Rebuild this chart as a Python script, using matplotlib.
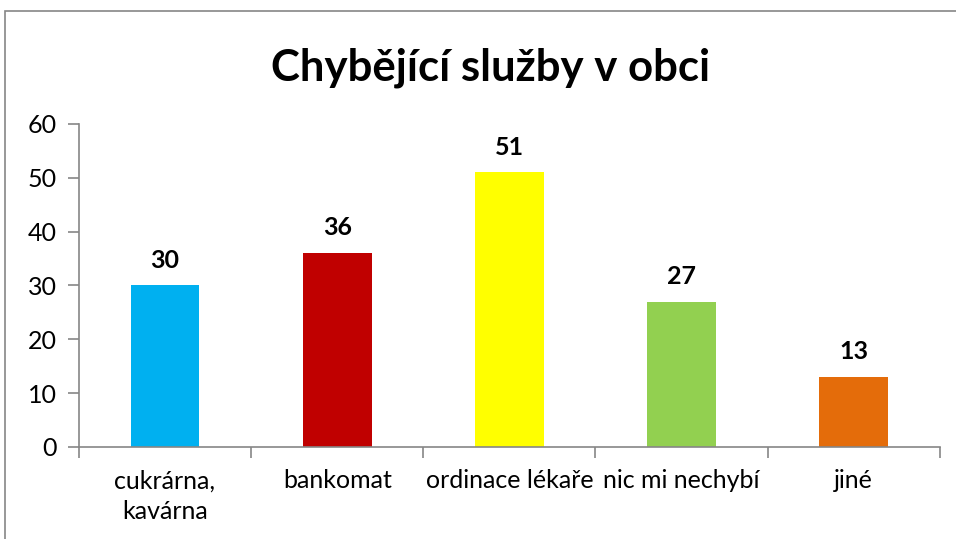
import matplotlib
matplotlib.use("Agg")
import matplotlib.pyplot as plt
from matplotlib.patches import Rectangle

categories = ["cukrárna,\nkavárna", "bankomat", "ordinace lékaře", "nic mi nechybí", "jiné"]
values = [30, 36, 51, 27, 13]
colors = ["#00B0F0", "#C00000", "#FFFF00", "#92D050", "#E46C0A"]
yticks = [0, 10, 20, 30, 40, 50, 60]

plt.rcParams["font.family"] = ["Lato", "DejaVu Sans"]

fig = plt.figure(figsize=(9.56, 5.39), dpi=100)
ax = fig.add_axes([0.0826, 0.1707, 0.9004, 0.5993])

x = list(range(len(values)))
ax.bar(x, values, width=0.4, color=colors, zorder=2)

for xi, v in zip(x, values):
    ax.annotate(str(v), (xi, v), xytext=(0, 10), textcoords="offset points",
                ha="center", va="bottom", fontsize=18, fontweight="bold")

ax.set_xlim(-0.5, len(values) - 0.5)
ax.set_ylim(0, 60)
ax.set_yticks(yticks)
ax.set_yticklabels([str(t) for t in yticks], fontsize=18)

ax.set_xticks(x)
ax.set_xticklabels(categories, fontsize=18, va="top", linespacing=1.4)
ax.tick_params(axis="x", which="major", length=0, pad=16)
ax.set_xticks([i - 0.5 for i in range(len(values) + 1)], minor=True)
ax.tick_params(axis="x", which="minor", length=8, width=1.2, color="#868686", direction="out")
ax.tick_params(axis="y", length=8, width=1.2, color="#868686", direction="out", pad=8)

for s in ["top", "right"]:
    ax.spines[s].set_visible(False)
for s in ["left", "bottom"]:
    ax.spines[s].set_color("#868686")
    ax.spines[s].set_linewidth(1.2)

fig.text(0.513, 0.874, "Chybějící služby v obci", ha="center", va="center",
         fontsize=31.5, fontweight="bold")

fig.patches.append(Rectangle((5 / 956, -0.1), 1.2, 1 - 11 / 539 + 0.1,
                             transform=fig.transFigure, fill=False,
                             edgecolor="#868686", linewidth=1.2))

fig.savefig("out.png", dpi=100)
